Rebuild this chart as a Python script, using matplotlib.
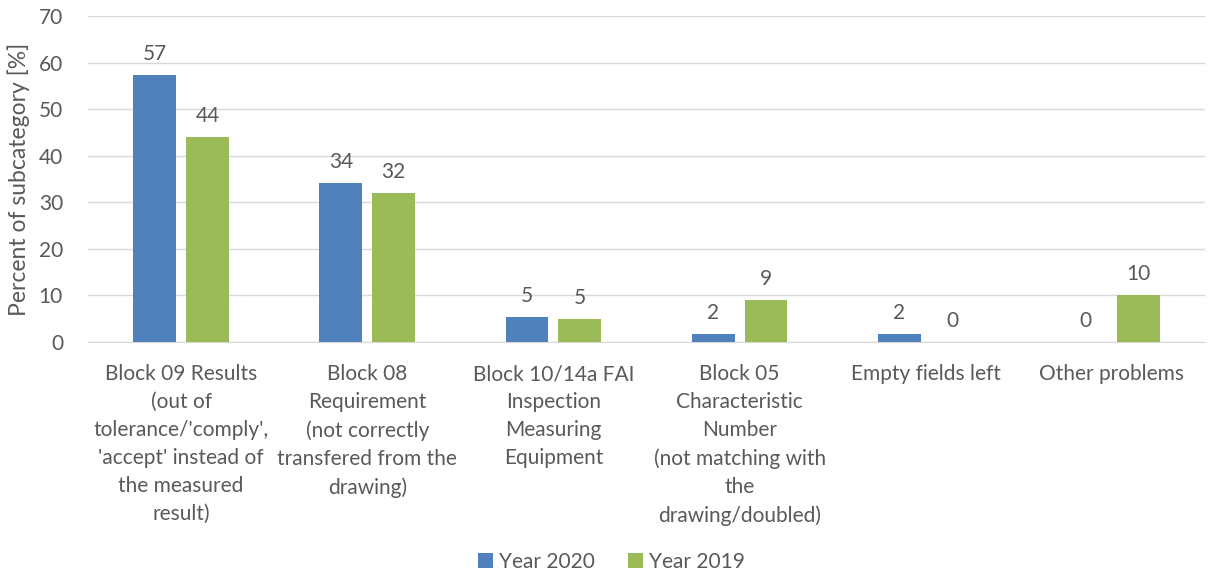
import matplotlib.pyplot as plt
import numpy as np

plt.rcParams['font.family'] = ['Lato', 'DejaVu Sans']

# data
categories = [
    "Block 09 Results\n(out of\ntolerance/'comply',\n'accept' instead of\nthe measured\nresult)",
    "Block 08\nRequirement\n(not correctly\ntransfered from the\ndrawing)",
    "Block 10/14a FAI\nInspection\nMeasuring\nEquipment",
    "Block 05\nCharacteristic\nNumber\n(not matching with\nthe\ndrawing/doubled)",
    "Empty fields left",
    "Other problems",
]
year_2020 = [57.3, 34.1, 5.4, 1.7, 1.7, 0.0]
year_2019 = [44.0, 32.0, 4.9, 9.0, 0.0, 10.0]
series_names = ["Year 2020", "Year 2019"]

blue = '#4F81BD'
green = '#9BBB59'
txt = '#595959'
grid = '#D9D9D9'

fig = plt.figure(figsize=(12.11, 5.73), dpi=100)
ax = fig.add_axes([88 / 1211, 1 - 342 / 573, (1205 - 88) / 1211, (342 - 16) / 573])

x = np.arange(len(categories))
w = 0.23
off = 0.142
b1 = ax.bar(x - off, year_2020, w, color=blue, label=series_names[0], zorder=3)
b2 = ax.bar(x + off, year_2019, w, color=green, label=series_names[1], zorder=3)

for bars, vals in [(b1, year_2020), (b2, year_2019)]:
    for rect, v in zip(bars, vals):
        ax.annotate("%d" % round(v), (rect.get_x() + rect.get_width() / 2, v),
                    xytext=(0, 8), textcoords='offset points',
                    ha='center', va='bottom', fontsize=15, color=txt)

ax.set_xlim(-0.5, len(categories) - 0.5)
ax.set_ylim(0, 70)
ax.set_yticks(np.arange(0, 71, 10))
ax.yaxis.grid(True, color=grid, linewidth=1, zorder=0)
ax.set_axisbelow(True)
for s in ['top', 'right', 'left']:
    ax.spines[s].set_visible(False)
ax.spines['bottom'].set_color(grid)
ax.tick_params(axis='both', length=0, labelsize=15, colors=txt)
ax.tick_params(axis='y', pad=18)
ax.set_xticks(x)
ax.set_xticklabels(categories, linespacing=1.5, va='top')
ax.tick_params(axis='x', pad=16)
ax.set_ylabel("Percent of subcategory [%]", fontsize=16.5, color=txt, labelpad=6)

fig.legend(loc='center', bbox_to_anchor=(0.505, 1 - 562 / 573), ncol=2,
           frameon=False, fontsize=15, handlelength=0.7, handleheight=0.7,
           handletextpad=0.3, columnspacing=1.6, labelcolor=txt)

fig.savefig('out.png', dpi=100)
